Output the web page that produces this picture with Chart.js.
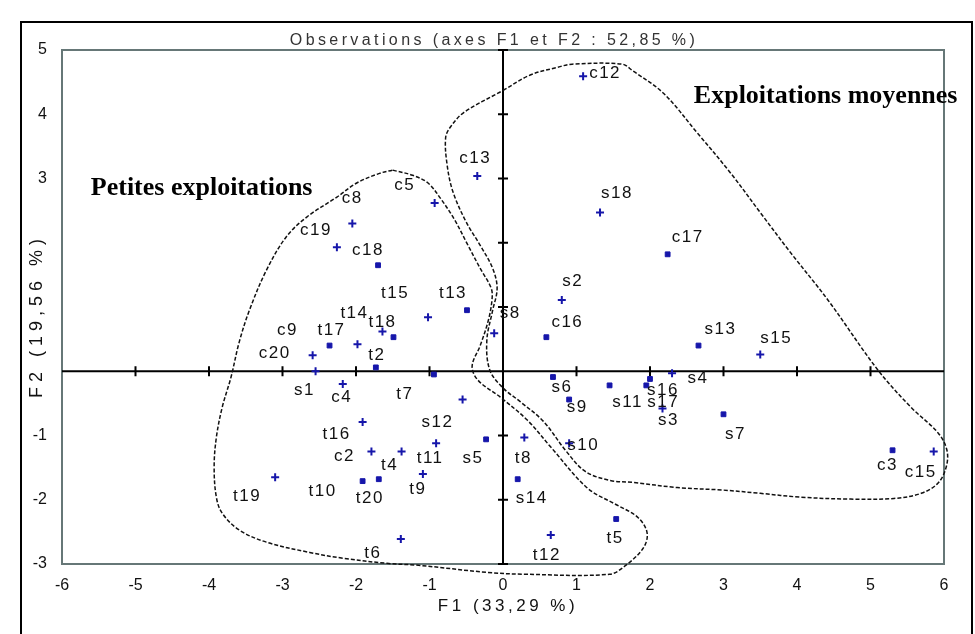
<!DOCTYPE html>
<html>
<head>
<meta charset="utf-8">
<script src="https://cdn.jsdelivr.net/npm/chart.js@4.4.0/dist/chart.umd.min.js"></script>
<style>
  html, body { margin: 0; padding: 0; background: #fff; }
</style>
</head>
<body>
<canvas id="acp" width="975" height="634"></canvas>
<script>
// Observations marquées d'un carré
const carreNoms = ['c18', 'c17', 'c16', 's13', 't13', 't18', 'c9', 't2', 't7', 's6', 's9', 's11', 's16', 's17', 's7', 'c3', 's5', 't10', 't20', 's14', 't5'];
const carreF1 = [-1.70, 2.24, 0.59, 2.66, -0.49, -1.49, -2.36, -1.73, -0.94, 0.68, 0.90, 1.45, 2.00, 1.95, 3.00, 5.30, -0.23, -1.91, -1.69, 0.20, 1.54];
const carreF2 = [1.65, 1.82, 0.53, 0.40, 0.95, 0.53, 0.40, 0.06, -0.05, -0.09, -0.44, -0.22, -0.12, -0.22, -0.67, -1.23, -1.06, -1.71, -1.68, -1.68, -2.30];

// Observations marquées d'une croix
const croixNoms = ['c12', 'c13', 'c5', 's18', 'c8', 'c19', 's2', 's15', 's8', 't15', 't14', 't17', 'c20', 's1', 'c4', 's12', 's4', 's3', 'c15', 't16', 'c2', 't4', 't11', 't8', 't19', 't9', 't6', 't12', 's10'];
const croixF1 = [1.09, -0.35, -0.93, 1.32, -2.05, -2.26, 0.80, 3.50, -0.12, -1.02, -1.64, -1.98, -2.59, -2.55, -2.18, -0.55, 2.30, 2.17, 5.86, -1.91, -1.79, -1.38, -0.91, 0.29, -3.10, -1.09, -1.39, 0.65, 0.90];
const croixF2 = [4.59, 3.04, 2.62, 2.47, 2.30, 1.93, 1.11, 0.26, 0.59, 0.84, 0.62, 0.42, 0.25, 0.00, -0.20, -0.44, -0.03, -0.58, -1.25, -0.79, -1.25, -1.25, -1.12, -1.03, -1.65, -1.60, -2.61, -2.55, -1.12];

// Graduations des axes
const ticksF1 = [-6, -5, -4, -3, -2, -1, 0, 1, 2, 3, 4, 5, 6];
const ticksF2 = [-3, -2, -1, 0, 1, 2, 3, 4, 5];

// Contours tracés à la main autour des deux groupes (en unités F1 / F2)
const contourPetites = [
  [-1.50, 3.13], [-1.23, 3.05], [-1.02, 2.93], [-0.85, 2.69], [-0.67, 2.38], [-0.49, 1.99], [-0.31, 1.60],
  [-0.16, 1.29], [-0.15, 1.11], [-0.20, 0.79], [-0.31, 0.40], [-0.42, 0.08], [-0.34, -0.14], [-0.04, -0.40],
  [0.33, -0.76], [0.65, -1.18], [1.15, -1.82], [1.53, -2.07], [1.83, -2.27], [1.96, -2.51], [1.91, -2.75],
  [1.66, -3.03], [1.45, -3.16], [0.30, -3.16], [-0.22, -3.13], [-1.15, -3.02], [-1.58, -2.99], [-2.18, -2.91],
  [-2.63, -2.82], [-3.22, -2.66], [-3.59, -2.47], [-3.82, -2.21], [-3.90, -1.96], [-3.93, -1.49], [-3.90, -1.03],
  [-3.82, -0.56], [-3.70, -0.09], [-3.59, 0.45], [-3.45, 0.95], [-3.22, 1.57], [-2.95, 2.09], [-2.67, 2.40],
  [-2.26, 2.71], [-1.99, 2.93], [-1.68, 3.08], [-1.50, 3.13]
];
const contourMoyennes = [
  [0.00, 4.37], [0.37, 4.61], [0.74, 4.73], [0.94, 4.78], [1.62, 4.78], [1.76, 4.68], [2.18, 4.33],
  [2.65, 3.70], [3.10, 3.08], [3.50, 2.47], [3.91, 1.85], [4.42, 1.11], [5.10, 0.02], [5.55, -0.56],
  [5.92, -0.96], [6.04, -1.23], [6.03, -1.49], [5.92, -1.74], [5.69, -1.90], [5.32, -1.98], [4.73, -1.99],
  [4.05, -1.96], [3.50, -1.90], [3.00, -1.85], [2.37, -1.81], [1.77, -1.73], [1.46, -1.70], [1.12, -1.56],
  [0.85, -1.23], [0.55, -0.78], [0.23, -0.47], [0.00, -0.26], [-0.18, 0.02], [-0.22, 0.48], [-0.14, 0.95],
  [-0.08, 1.29], [-0.14, 1.60], [-0.31, 1.96], [-0.50, 2.32], [-0.68, 2.79], [-0.76, 3.21], [-0.78, 3.64],
  [-0.71, 3.81], [-0.53, 4.03], [0.00, 4.37]
];

const titre = 'Observations (axes F1 et F2 : 52,85 %)';
const titreF1 = 'F1 (33,29 %)';
const titreF2 = 'F2 (19,56 %)';
const groupes = [
  { texte: 'Petites exploitations', f1: -4.10, f2: 2.85 },
  { texte: 'Exploitations moyennes', f1: 4.39, f2: 4.28 }
];

// Décalage des étiquettes par rapport au point (pixels)
const decalage = {
  c12: [22, -3], c13: [-2, -18], c5: [-30, -18], s18: [17, -19], c8: [0, -25], c19: [-21, -17],
  c18: [-10, -15], c17: [20, -17], s2: [11, -19], c16: [21, -15], s13: [22, -16], s15: [16, -16],
  s8: [16, -20], t13: [-14, -17], t15: [-33, -24], t18: [-11, -15], t14: [-28, -18], t17: [-26, -14],
  c9: [-42, -15], c20: [-38, -2], s1: [-11, 19], t2: [1, -12], t7: [-29, 20], c4: [-1, 13],
  s12: [-25, 23], t16: [-26, 12], c2: [-27, 5], t4: [-12, 14], t11: [-6, 15], s5: [-13, 19],
  t8: [-1, 21], t19: [-28, 19], t10: [-40, 10], t20: [-9, 19], t9: [-5, 15], s14: [14, 19],
  t6: [-28, 14], t5: [-1, 19], t12: [-4, 20], s6: [9, 10], s9: [8, 8], s11: [18, 17],
  s16: [13, 11], s17: [17, 17], s3: [6, 12], s4: [26, 5], s7: [12, 20], s10: [14, 2],
  c3: [-5, 15], c15: [-13, 21]
};

const POLICE = '"Liberation Sans", Arial, sans-serif';
const BLEU = '#1616aa';

const points = (xs, ys) => xs.map((x, i) => ({ x: x, y: ys[i] }));
const trace = (c) => c.map(p => ({ x: p[0], y: p[1] }));

// Fond blanc, cadre extérieur et cadre de la zone de tracé
const cadres = {
  id: 'cadres',
  beforeDraw(chart) {
    const ctx = chart.ctx;
    ctx.save();
    ctx.fillStyle = '#fff';
    ctx.fillRect(0, 0, chart.width, chart.height);
    ctx.strokeStyle = '#000';
    ctx.lineWidth = 2;
    ctx.beginPath();
    ctx.moveTo(21, chart.height);
    ctx.lineTo(21, 22);
    ctx.lineTo(972, 22);
    ctx.lineTo(972, chart.height);
    ctx.stroke();
    ctx.restore();
  },
  beforeDatasetsDraw(chart) {
    const { ctx, chartArea: a, scales: { x, y } } = chart;
    ctx.save();
    ctx.strokeStyle = '#667777';
    ctx.lineWidth = 2;
    ctx.strokeRect(a.left, a.top, a.right - a.left, a.bottom - a.top);

    // axes passant par l'origine
    const x0 = x.getPixelForValue(0);
    const y0 = y.getPixelForValue(0);
    ctx.strokeStyle = '#000';
    ctx.lineWidth = 2;
    ctx.beginPath();
    ctx.moveTo(x0, a.top);
    ctx.lineTo(x0, a.bottom);
    ctx.moveTo(a.left, y0);
    ctx.lineTo(a.right, y0);
    ticksF1.forEach(v => {
      if (v === 0 || v === ticksF1[0] || v === ticksF1[ticksF1.length - 1]) return;
      const px = x.getPixelForValue(v);
      ctx.moveTo(px, y0 - 5);
      ctx.lineTo(px, y0 + 5);
    });
    ticksF2.forEach(v => {
      if (v === 0) return;
      const py = y.getPixelForValue(v);
      ctx.moveTo(x0 - 5, py);
      ctx.lineTo(x0 + 5, py);
    });
    ctx.stroke();
    ctx.restore();
  }
};

// Noms des observations à côté des points
const etiquettes = {
  id: 'etiquettes',
  afterDatasetsDraw(chart) {
    const ctx = chart.ctx;
    ctx.save();
    ctx.font = '17px ' + POLICE;
    ctx.letterSpacing = '1.5px';
    ctx.fillStyle = '#111';
    ctx.textAlign = 'center';
    ctx.textBaseline = 'middle';
    chart.data.datasets.forEach((ds, i) => {
      if (!ds.noms) return;
      chart.getDatasetMeta(i).data.forEach((pt, j) => {
        const nom = ds.noms[j];
        const d = decalage[nom] || [16, -16];
        ctx.fillText(nom, pt.x + d[0], pt.y + d[1]);
      });
    });
    ctx.restore();
  }
};

// Titres et noms des groupes
const textes = {
  id: 'textes',
  afterDraw(chart) {
    const { ctx, chartArea: a, scales: { x, y } } = chart;
    ctx.save();
    ctx.textAlign = 'center';
    ctx.textBaseline = 'middle';

    ctx.fillStyle = '#333';
    ctx.font = '16px ' + POLICE;
    ctx.letterSpacing = '3.4px';
    ctx.fillText(titre, (a.left + a.right) / 2 - 9, a.top - 9);

    ctx.fillStyle = '#111';
    ctx.font = '17px ' + POLICE;
    ctx.letterSpacing = '3.5px';
    ctx.fillText(titreF1, (a.left + a.right) / 2 + 5, a.bottom + 42);

    // titre vertical, posé sur un fond blanc
    ctx.font = '18px ' + POLICE;
    ctx.letterSpacing = '5px';
    ctx.translate(37, (a.top + a.bottom) / 2 + 9);
    ctx.rotate(-Math.PI / 2);
    const w = ctx.measureText(titreF2).width;
    ctx.fillStyle = '#fff';
    ctx.fillRect(-w / 2 - 8, -13, w + 16, 26);
    ctx.fillStyle = '#111';
    ctx.fillText(titreF2, 0, 0);
    ctx.setTransform(1, 0, 0, 1, 0, 0);

    ctx.font = 'bold 26px "Liberation Serif", "Times New Roman", serif';
    ctx.letterSpacing = '0px';
    ctx.fillStyle = '#000';
    groupes.forEach(g => {
      ctx.fillText(g.texte, x.getPixelForValue(g.f1), y.getPixelForValue(g.f2));
    });
    ctx.restore();
  }
};

const contour = (data) => ({
  data: trace(data),
  showLine: true,
  pointRadius: 0,
  borderColor: '#111',
  borderWidth: 1.5,
  borderDash: [4, 2],
  tension: 0.35,
  capBezierPoints: false,
  fill: false,
  clip: false
});

new Chart(document.getElementById('acp'), {
  type: 'scatter',
  data: {
    datasets: [
      {
        noms: carreNoms,
        data: points(carreF1, carreF2),
        pointStyle: 'rect',
        pointRadius: 3.4,
        backgroundColor: BLEU,
        borderColor: BLEU,
        borderWidth: 1
      },
      {
        noms: croixNoms,
        data: points(croixF1, croixF2),
        pointStyle: 'cross',
        pointRadius: 4,
        borderColor: BLEU,
        borderWidth: 2
      },
      contour(contourPetites),
      contour(contourMoyennes)
    ]
  },
  options: {
    responsive: false,
    animation: false,
    events: [],
    layout: { padding: { top: 50, right: 31, left: 0, bottom: 0 } },
    plugins: {
      legend: { display: false },
      tooltip: { enabled: false }
    },
    scales: {
      x: {
        type: 'linear',
        min: -6,
        max: 6,
        afterBuildTicks: s => { s.ticks = ticksF1.map(v => ({ value: v })); },
        afterFit: s => { s.height = 70; },
        grid: { display: false, drawTicks: false },
        border: { display: false },
        ticks: { color: '#111', padding: 12, autoSkip: false, maxRotation: 0, font: { size: 16, family: POLICE } }
      },
      y: {
        type: 'linear',
        min: -3,
        max: 5,
        afterBuildTicks: s => { s.ticks = ticksF2.map(v => ({ value: v })); },
        afterFit: s => { s.width = 62; },
        grid: { display: false, drawTicks: false },
        border: { display: false },
        ticks: { color: '#111', padding: 15, autoSkip: false, font: { size: 16, family: POLICE } }
      }
    }
  },
  plugins: [cadres, etiquettes, textes]
});
</script>
</body>
</html>
